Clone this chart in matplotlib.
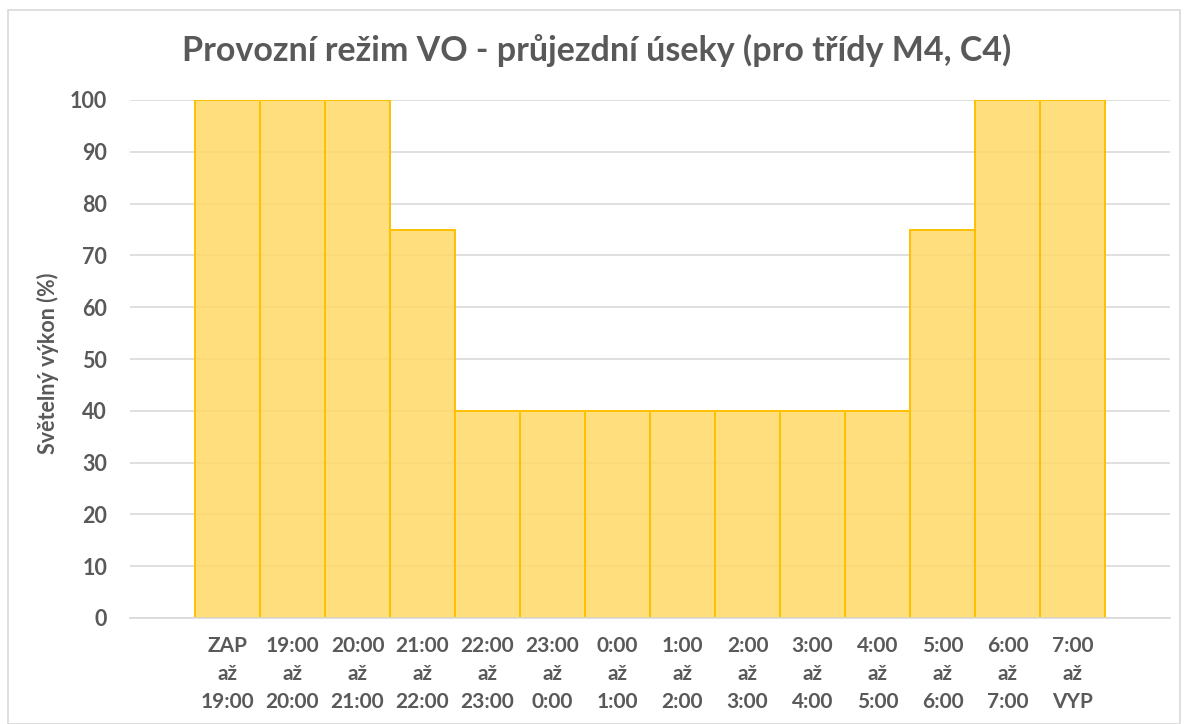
"""
Provozní režim VO - sloupcový graf světelného výkonu
"""
import matplotlib.pyplot as plt
import numpy as np
from matplotlib.patches import Rectangle

# časové úseky a světelný výkon (%)
od = ["ZAP", "19:00", "20:00", "21:00", "22:00", "23:00", "0:00",
      "1:00", "2:00", "3:00", "4:00", "5:00", "6:00", "7:00"]
do = ["19:00", "20:00", "21:00", "22:00", "23:00", "0:00", "1:00",
      "2:00", "3:00", "4:00", "5:00", "6:00", "7:00", "VYP"]
vykon = [100, 100, 100, 75, 40, 40, 40, 40, 40, 40, 40, 75, 100, 100]

labels = [f"{a}\naž\n{b}" for a, b in zip(od, do)]

plt.rcParams['font.family'] = ['Lato', 'DejaVu Sans']
text_color = "#595959"

fig = plt.figure(figsize=(11.88, 7.24), dpi=100)
ax = fig.add_axes([130 / 1188, 1 - 618 / 724, 1040 / 1188, 518 / 724])

x = np.arange(len(vykon))
ax.bar(x, vykon, width=1.0, facecolor=(1.0, 0.85, 0.4, 0.85),
       edgecolor="#FFC000", linewidth=1.4, zorder=2)

ax.set_xlim(-1.5, len(vykon) + 0.5)
ax.set_ylim(0, 100)
ax.set_yticks(np.arange(0, 101, 10))
ax.yaxis.grid(True, color="#D9D9D9", linewidth=1.2, zorder=0)
ax.set_axisbelow(True)

for s in ["top", "right", "left"]:
    ax.spines[s].set_visible(False)
ax.spines["bottom"].set_color("#D9D9D9")
ax.spines["bottom"].set_linewidth(1.2)

ax.set_xticks(x)
ax.set_xticklabels(labels, fontsize=15, fontweight="bold", color=text_color,
                   linespacing=1.5)
ax.tick_params(axis="x", length=0, pad=13)
ax.tick_params(axis="y", length=0, pad=16.5, labelsize=15.5,
               labelcolor=text_color)
for t in ax.get_yticklabels():
    t.set_fontweight("bold")

fig.text(48 / 1188, 1 - 363 / 724, "Světelný výkon (%)", rotation=90,
         ha="center", va="center", fontsize=15.5, fontweight="bold",
         color=text_color)
fig.text(597 / 1188, 1 - 50 / 724,
         "Provozní režim VO - průjezdní úseky (pro třídy M4, C4)",
         ha="center", va="center", fontsize=24.5, fontweight="bold",
         color=text_color)

# rámeček grafu
fig.patches.append(Rectangle((8 / 1188, 0), 1172 / 1188, 1 - 10 / 724,
                             transform=fig.transFigure, fill=False,
                             edgecolor="#D9D9D9", linewidth=1.2))

fig.savefig("out.png", dpi=100)
